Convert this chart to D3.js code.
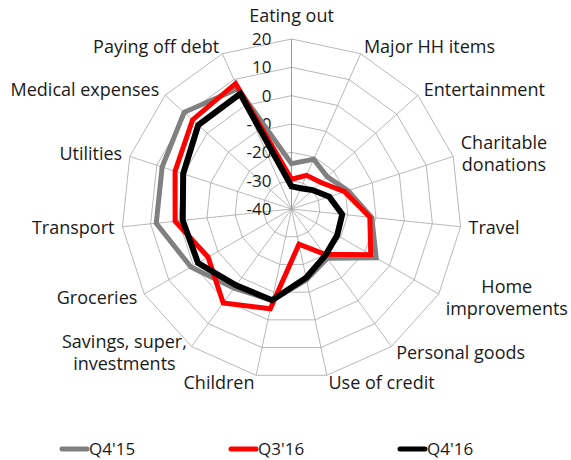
<!DOCTYPE html>
<html>
<head>
<meta charset="utf-8">
<script src="https://cdn.jsdelivr.net/npm/d3@7"></script>
<style>
  html, body { margin: 0; padding: 0; background: #fff; }
  svg { display: block; font-family: "Open Sans", sans-serif; }
</style>
</head>
<body>
<svg id="chart" width="571" height="460"></svg>
<script>
// Spending categories, clockwise from the top
const categories = [
  "Eating out", "Major HH items", "Entertainment", "Charitable donations",
  "Travel", "Home improvements", "Personal goods", "Use of credit",
  "Children", "Savings, super, investments", "Groceries", "Transport",
  "Utilities", "Medical expenses", "Paying off debt"
];
// How each category label is broken into lines
const categoryLines = [
  ["Eating out"], ["Major HH items"], ["Entertainment"], ["Charitable", "donations"],
  ["Travel"], ["Home", "improvements"], ["Personal goods"], ["Use of credit"],
  ["Children"], ["Savings, super,", "investments"], ["Groceries"], ["Transport"],
  ["Utilities"], ["Medical expenses"], ["Paying off debt"]
];

const seriesNames = ["Q4'15", "Q3'16", "Q4'16"];
const q415 = [-24, -20.8, -23, -19, -11.5, -5.5, -18.5, -14.5, -7, -5.5, 1, 8, 8, 11, 6.5];
const q316 = [-29.5, -27, -26, -20.3, -12.2, -7.7, -20.3, -27.3, -4, 1, -6, 1.3, 3.2, 7, 8.5];
const q416 = [-32, -32, -30, -26, -22, -21.4, -19.7, -15.2, -7.1, -6.7, -1.9, -1.4, 0.2, 4.3, 4.5];
const seriesColors = ["#808080", "#ff0000", "#000000"];
const seriesWidths = [5, 5, 6];

const tickValues = [20, 10, 0, -10, -20, -30, -40];

const svg = d3.select("#chart");
const cx = 291.5, cy = 209, R = 170;
const n = categories.length;

const r = d3.scaleLinear().domain([-40, 20]).range([0, R]);
const angle = d3.scaleLinear().domain([0, n]).range([0, 2 * Math.PI]);

const pt = (i, rad) => [cx + rad * Math.sin(angle(i)), cy - rad * Math.cos(angle(i))];

const g = svg.append("g");

// Ring polygons
const rings = tickValues.filter(v => v > -40);
g.selectAll("path.ring").data(rings).join("path")
  .attr("class", "ring")
  .attr("d", v => "M" + d3.range(n).map(i => pt(i, r(v)).join(",")).join("L") + "Z")
  .attr("fill", "none")
  .attr("stroke", "#a6a6a6")
  .attr("stroke-width", 0.8);

// Spokes
g.selectAll("line.spoke").data(d3.range(n)).join("line")
  .attr("class", "spoke")
  .attr("x1", cx).attr("y1", cy)
  .attr("x2", i => pt(i, R)[0]).attr("y2", i => pt(i, R)[1])
  .attr("stroke", i => i === 0 ? "#7f7f7f" : "#a6a6a6")
  .attr("stroke-width", 0.8);

// Value axis labels
g.selectAll("text.tick").data(tickValues).join("text")
  .attr("class", "tick")
  .attr("x", cx - 20)
  .attr("y", v => cy - r(v))
  .attr("dy", "0.35em")
  .attr("text-anchor", "end")
  .attr("font-size", 17)
  .attr("fill", "#1a1a1a")
  .text(v => v);

// Series lines
const series = [q415, q316, q416];
const line = d3.lineRadial()
  .angle((d, i) => angle(i))
  .radius(d => r(d))
  .curve(d3.curveLinearClosed);

g.selectAll("path.series").data(series).join("path")
  .attr("class", "series")
  .attr("transform", `translate(${cx},${cy})`)
  .attr("d", d => line(d))
  .attr("fill", "none")
  .attr("stroke", (d, i) => seriesColors[i])
  .attr("stroke-width", (d, i) => seriesWidths[i])
  .attr("stroke-linejoin", "miter");

// Category labels
const lh = 22, fs = 18, pad = 8;
categoryLines.forEach((lines, i) => {
  const a = angle(i);
  const [px, py] = pt(i, R + pad);
  const s = Math.sin(a);
  const t = g.append("text")
    .attr("font-size", fs)
    .attr("fill", "#1a1a1a");
  const spans = lines.map((l, k) => t.append("tspan").text(l));
  const widths = spans.map(sp => sp.node().getComputedTextLength());
  const maxW = d3.max(widths);
  let centerX;
  if (s > 0.1) centerX = px + maxW / 2;
  else if (s < -0.1) centerX = px - maxW / 2;
  else centerX = px;
  const h = lines.length * lh;
  let midY = py;
  if (i === 0) midY = py - h / 2 - 4;
  const top = midY - h / 2;
  spans.forEach((sp, k) => {
    sp.attr("x", centerX)
      .attr("y", top + lh * k + lh / 2)
      .attr("dy", "0.35em")
      .attr("text-anchor", "middle");
  });
});

// Legend
const legendX = [62, 231, 400];
const legendY = 449;
const lg = svg.append("g");
seriesNames.forEach((name, i) => {
  lg.append("line")
    .attr("x1", legendX[i]).attr("x2", legendX[i] + 25)
    .attr("y1", legendY).attr("y2", legendY)
    .attr("stroke", seriesColors[i])
    .attr("stroke-width", 5)
    .attr("stroke-linecap", "round");
  lg.append("text")
    .attr("x", legendX[i] + 27)
    .attr("y", legendY)
    .attr("dy", "0.35em")
    .attr("font-size", 17)
    .attr("fill", "#1a1a1a")
    .text(name);
});
</script>
</body>
</html>
